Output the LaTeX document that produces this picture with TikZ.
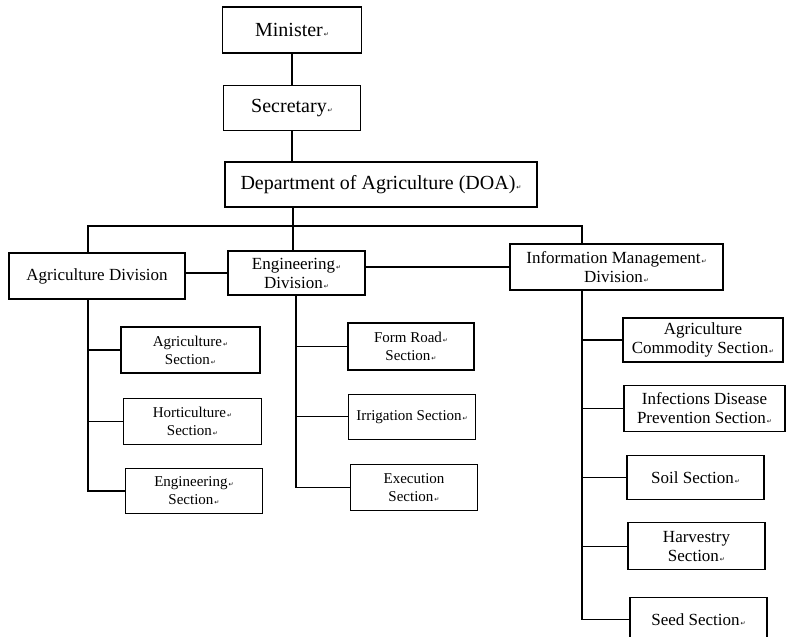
\documentclass[tikz,border=0pt]{standalone}
\usepackage{fontspec}
\setmainfont{Liberation Serif}
\newfontfamily\marksfont{DejaVu Sans}
\usetikzlibrary{positioning}

% small line-end mark that follows most labels
\newcommand{\pmk}{{\marksfont\fontsize{6}{6}\selectfont\,↵}}

\tikzset{
  box/.style={draw, line width=1.2pt, align=center, inner sep=1pt},
  topbox/.style={box, font=\fontsize{20}{22}\selectfont},
  divbox/.style={box, font=\fontsize{17}{19}\selectfont},
  secbox/.style={box, font=\fontsize{15}{18}\selectfont},
  infbox/.style={box, font=\fontsize{17}{19}\selectfont},
  link/.style={line width=1.2pt},
}

\begin{document}
\begin{tikzpicture}[x=1pt,y=-1pt]
    \useasboundingbox (0,0) rectangle (787,637);

    \node(Min) [topbox, minimum width=139pt, minimum height=46pt] at (292,30) {Minister\pmk};
    \node(Sec) [topbox, minimum width=137pt, minimum height=45pt, below=31pt of Min] {Secretary\pmk};
    \node(DOA) [topbox, minimum width=312pt, minimum height=45pt] at (381,184.5) {Department of Agriculture (DOA)\pmk};

    \node(AgD) [divbox, minimum width=176pt, minimum height=46pt] at (97,276) {Agriculture Division};
    \node(EnD) [divbox, minimum width=137pt, minimum height=44pt] at (296.5,273) {Engineering\pmk\\Division\pmk};
    \node(InD) [divbox, minimum width=213pt, minimum height=46pt] at (616.5,267) {Information Management\pmk\\Division\pmk};

    \node(AgS) [secbox, minimum width=139pt, minimum height=46pt] at (190.5,350) {Agriculture\pmk\\Section\pmk};
    \node(HoS) [secbox, minimum width=138pt, minimum height=46pt, below=24pt of AgS, xshift=2pt] {Horticulture\pmk\\Section\pmk};
    \node(EnS) [secbox, minimum width=137pt, minimum height=45pt, below=23pt of HoS, xshift=1.5pt] {Engineering\pmk\\Section\pmk};

    \node(FrS) [secbox, minimum width=126pt, minimum height=47pt] at (411,346.5) {Form Road\pmk\\Section\pmk};
    \node(IrS) [secbox, minimum width=127pt, minimum height=45pt, below=23pt of FrS, xshift=1pt] {Irrigation Section\pmk};
    \node(ExS) [secbox, minimum width=127pt, minimum height=46pt, below=24pt of IrS, xshift=2pt] {Execution\\Section\pmk};

    \node(ACS) [infbox, minimum width=160pt, minimum height=44pt] at (703,340) {Agriculture\\Commodity Section\pmk};
    \node(IDS) [infbox, minimum width=161pt, minimum height=46pt, below=22pt of ACS, xshift=1.5pt] {Infections Disease\\Prevention Section\pmk};
    \node(SoS) [infbox, minimum width=137pt, minimum height=44pt, below=23pt of IDS, xshift=-9pt] {Soil Section\pmk};
    \node(HaS) [infbox, minimum width=137pt, minimum height=47pt, below=22pt of SoS, xshift=1pt] {Harvestry\\Section\pmk};
    \node(SeS) [infbox, minimum width=137pt, minimum height=43pt, below=27pt of HaS, xshift=2pt] {Seed Section\pmk};

    \coordinate(bus) at (293,226);
    \coordinate(agx) at (88,0);
    \coordinate(enx) at (296,0);
    \coordinate(inx) at (582,0);

    \draw[link] (Min) -- (Sec);
    \draw[link] (Sec) -- (Sec |- DOA.north);
    \draw[link] (DOA.south -| bus) -- (EnD.north -| bus);
    \draw[link] (AgD.north -| agx) |- (bus) -| (InD.north -| inx);
    \draw[link] (EnD.west -| AgD.east) -- (EnD.west);
    \draw[link] (InD.west -| EnD.east) -- (InD.west);

    \foreach \s in {AgS,HoS,EnS}
      \draw[link] (AgD.south -| agx) |- (\s.west);
    \foreach \s in {FrS,IrS,ExS}
      \draw[link] (EnD.south -| enx) |- (\s.west);
    \foreach \s in {ACS,IDS,SoS,HaS,SeS}
      \draw[link] (InD.south -| inx) |- (\s.west);
\end{tikzpicture}
\end{document}
